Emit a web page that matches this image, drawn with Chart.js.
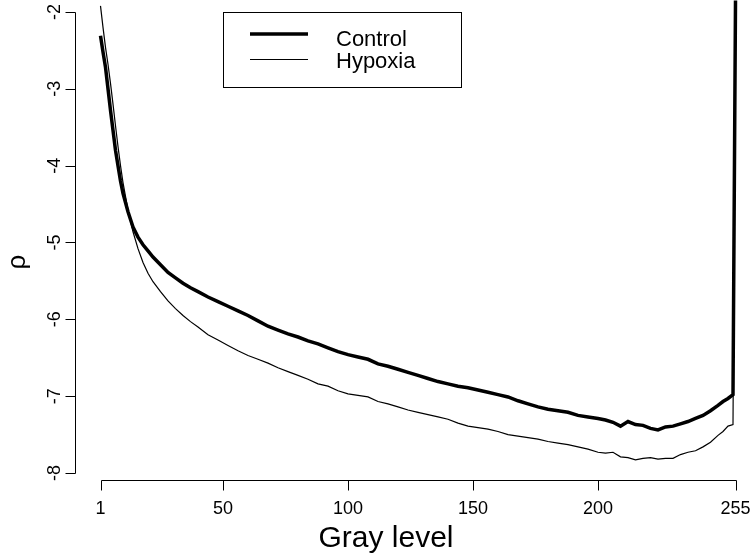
<!DOCTYPE html>
<html>
<head>
<meta charset="utf-8">
<script src="https://cdn.jsdelivr.net/npm/chart.js@4/dist/chart.umd.min.js"></script>
<style>
  html, body { margin: 0; padding: 0; background: #fff; }
  #wrap { width: 750px; height: 556px; }
</style>
</head>
<body>
<div id="wrap"><canvas id="chart"></canvas></div>
<script>
// values
const grayLevels = [1, 2, 3, 4, 5, 6, 7, 8, 9, 10, 12, 14, 16, 18, 20, 22, 25, 28, 31, 34, 37, 40, 44, 48,
  52, 56, 60, 64, 68, 72, 76, 80, 84, 88, 92, 96, 100, 104, 108, 112, 116, 120, 124, 128, 132, 136, 140,
  144, 148, 152, 156, 160, 164, 168, 172, 176, 180, 184, 188, 192, 196, 200, 203, 206, 209, 212, 215, 218,
  221, 224, 227, 230, 233, 236, 239, 242, 245, 248, 250, 252, 254, 255];

const controlValues = [-2.31, -2.52, -2.72, -3.00, -3.28, -3.54, -3.80, -4.00, -4.20, -4.36, -4.60, -4.80,
  -4.93, -5.03, -5.11, -5.19, -5.29, -5.39, -5.46, -5.53, -5.59, -5.64, -5.71, -5.77,
  -5.83, -5.89, -5.95, -6.02, -6.09, -6.14, -6.19, -6.23, -6.28, -6.32, -6.37, -6.42, -6.46, -6.49, -6.52,
  -6.58, -6.61, -6.65, -6.69, -6.73, -6.77, -6.81, -6.84, -6.87, -6.89, -6.92, -6.95, -6.98, -7.01, -7.06,
  -7.10, -7.14, -7.17, -7.19, -7.21, -7.25, -7.27, -7.29, -7.31, -7.34, -7.39, -7.33, -7.37, -7.38,
  -7.42, -7.44, -7.40, -7.39, -7.36, -7.33, -7.29, -7.25, -7.19, -7.12, -7.07, -7.03, -6.98, -1.85];

const hypoxiaValues = [-1.92, -2.20, -2.46, -2.68, -2.93, -3.20, -3.48, -3.75, -4.00, -4.22, -4.58, -4.86,
  -5.08, -5.26, -5.40, -5.51, -5.64, -5.76, -5.86, -5.95, -6.03, -6.10, -6.20, -6.27,
  -6.34, -6.41, -6.47, -6.52, -6.57, -6.63, -6.68, -6.73, -6.78, -6.84, -6.87, -6.93, -6.97, -6.99, -7.01,
  -7.07, -7.10, -7.14, -7.18, -7.21, -7.24, -7.27, -7.30, -7.35, -7.39, -7.41, -7.43, -7.46, -7.50, -7.52,
  -7.54, -7.56, -7.59, -7.61, -7.63, -7.66, -7.69, -7.73, -7.74, -7.73, -7.79, -7.80, -7.83, -7.81,
  -7.80, -7.82, -7.81, -7.81, -7.76, -7.73, -7.71, -7.66, -7.60, -7.51, -7.46, -7.39, -7.37, -1.90];

const xTicks = [1, 50, 100, 150, 200, 255];
const yTicks = [-8, -7, -6, -5, -4, -3, -2];

const FONT = '"Liberation Sans", Arial, Helvetica, sans-serif';

// R style axes, titles and legend, drawn from the chart's scales
const rAxes = {
  id: "rAxes",
  afterDraw(chart) {
    const ctx = chart.ctx;
    const xs = chart.scales.x;
    const ys = chart.scales.y;
    const area = chart.chartArea;
    ctx.save();
    ctx.strokeStyle = "#000";
    ctx.fillStyle = "#000";
    ctx.lineWidth = 1;

    // y axis
    const ax = Math.round(area.left) + 0.5;
    ctx.beginPath();
    ctx.moveTo(ax, Math.round(ys.getPixelForValue(yTicks[0])) + 0.5);
    ctx.lineTo(ax, Math.round(ys.getPixelForValue(yTicks[yTicks.length - 1])) + 0.5);
    yTicks.forEach((t) => {
      const py = Math.round(ys.getPixelForValue(t)) + 0.5;
      ctx.moveTo(ax, py);
      ctx.lineTo(ax - 10, py);
    });
    ctx.stroke();
    ctx.font = "18px " + FONT;
    ctx.textAlign = "center";
    ctx.textBaseline = "alphabetic";
    yTicks.forEach((t) => {
      ctx.save();
      ctx.translate(ax - 16, ys.getPixelForValue(t));
      ctx.rotate(-Math.PI / 2);
      ctx.fillText(String(t), 0, 0);
      ctx.restore();
    });

    // x axis
    const ay = Math.round(area.bottom) + 0.5;
    ctx.beginPath();
    ctx.moveTo(Math.round(xs.getPixelForValue(xTicks[0])) + 0.5, ay);
    ctx.lineTo(Math.round(xs.getPixelForValue(xTicks[xTicks.length - 1])) + 0.5, ay);
    xTicks.forEach((t) => {
      const px = Math.round(xs.getPixelForValue(t)) + 0.5;
      ctx.moveTo(px, ay);
      ctx.lineTo(px, ay + 10);
    });
    ctx.stroke();
    xTicks.forEach((t) => {
      ctx.fillText(String(t), xs.getPixelForValue(t), ay + 33);
    });

    // titles
    ctx.font = "30px " + FONT;
    ctx.fillText("Gray level", 386, 547);
    ctx.save();
    ctx.font = "26px " + FONT;
    ctx.translate(25, 262);
    ctx.rotate(-Math.PI / 2);
    ctx.fillText("ρ", 0, 0);
    ctx.restore();

    // legend
    ctx.strokeRect(223.5, 12.5, 238, 75);
    ctx.font = "22px " + FONT;
    ctx.textAlign = "left";
    const rows = [34, 59.5];
    const baselines = [46, 68];
    chart.data.datasets.forEach((ds, i) => {
      ctx.beginPath();
      ctx.lineWidth = ds.borderWidth;
      ctx.moveTo(250, rows[i]);
      ctx.lineTo(308, rows[i]);
      ctx.stroke();
      ctx.fillText(ds.label, 336, baselines[i]);
    });
    ctx.restore();
  },
};

new Chart(document.getElementById("chart"), {
  type: "line",
  data: {
    datasets: [
      {
        label: "Control",
        data: grayLevels.map((g, i) => ({ x: g, y: controlValues[i] })),
        borderColor: "#000",
        borderWidth: 3.5,
        pointRadius: 0,
        tension: 0,
        fill: false,
      },
      {
        label: "Hypoxia",
        data: grayLevels.map((g, i) => ({ x: g, y: hypoxiaValues[i] })),
        borderColor: "#000",
        borderWidth: 1.2,
        pointRadius: 0,
        tension: 0,
        fill: false,
      },
    ],
  },
  options: {
    responsive: true,
    maintainAspectRatio: false,
    animation: false,
    devicePixelRatio: 1,
    layout: { padding: { left: 75, right: 0, top: 0, bottom: 76 } },
    plugins: {
      legend: { display: false },
      tooltip: { enabled: false },
    },
    scales: {
      x: { type: "linear", min: -9.2, max: 260.8, display: false },
      y: { type: "linear", min: -8.091, max: -1.844, display: false },
    },
  },
  plugins: [rAxes],
});
</script>
</body>
</html>
